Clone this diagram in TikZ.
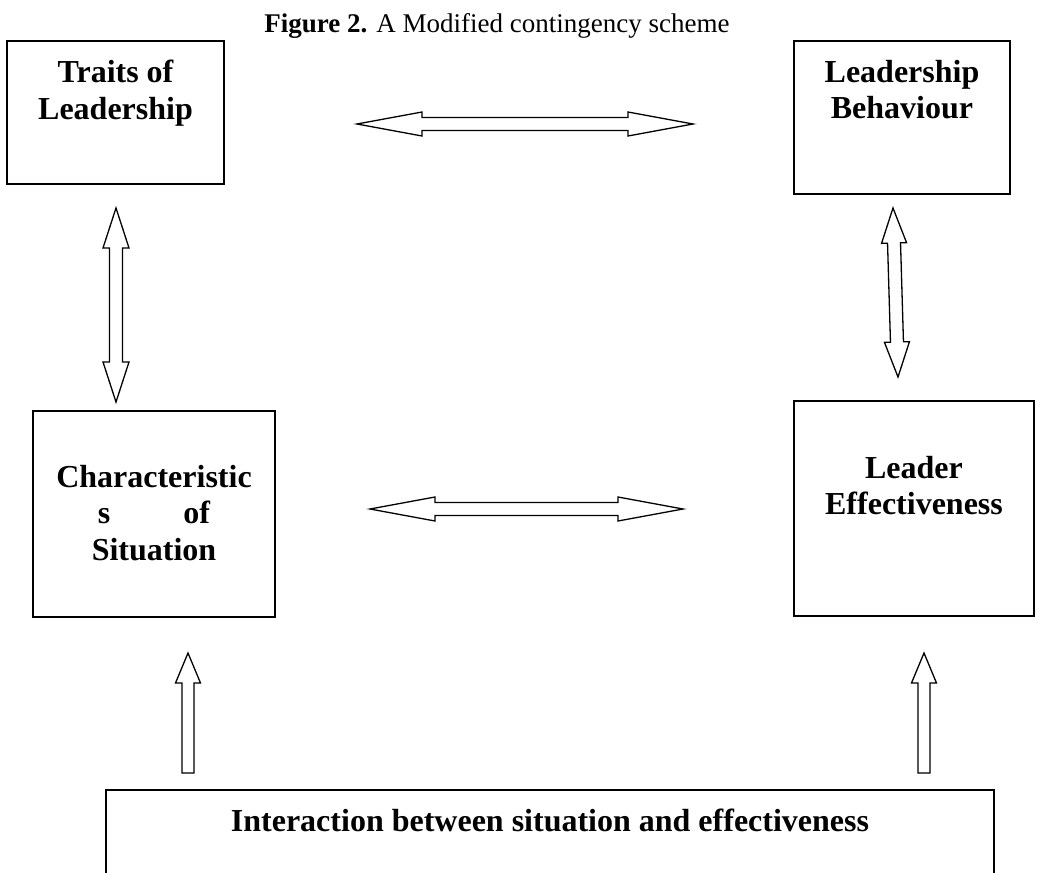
\documentclass[tikz,border=0pt]{standalone}
\usepackage{fontspec}
\setmainfont{Liberation Serif}
\usetikzlibrary{calc}
\tikzstyle{box} = [draw, line width=1.8pt, inner sep=0pt]
\tikzstyle{caption} = [inner sep=0pt, align=center, font=\fontsize{32}{36.5}\selectfont\bfseries]
\tikzstyle{hollow} = [draw, line width=1.3pt, fill=white, line join=miter]

% block arrow with a head at both ends: from, to, head length, half head, half shaft
\newcommand{\twoway}[5]{%
  \draw[hollow] (#1) -- ($(#1)!#3pt!(#2)!#4pt!90:(#1)$) -- ($(#1)!#3pt!(#2)!#5pt!90:(#1)$)
    -- ($(#2)!#3pt!(#1)!#5pt!-90:(#2)$) -- ($(#2)!#3pt!(#1)!#4pt!-90:(#2)$) -- (#2)
    -- ($(#2)!#3pt!(#1)!#4pt!90:(#2)$) -- ($(#2)!#3pt!(#1)!#5pt!90:(#2)$)
    -- ($(#1)!#3pt!(#2)!#5pt!-90:(#1)$) -- ($(#1)!#3pt!(#2)!#4pt!-90:(#1)$) -- cycle;}
% block arrow with one head: tail, tip, head length, half head, half shaft
\newcommand{\oneway}[5]{%
  \draw[hollow] (#2) -- ($(#2)!#3pt!(#1)!#4pt!90:(#2)$) -- ($(#2)!#3pt!(#1)!#5pt!90:(#2)$)
    -- ($(#1)!#5pt!90:(#2)$) -- ($(#1)!#5pt!-90:(#2)$)
    -- ($(#2)!#3pt!(#1)!#5pt!-90:(#2)$) -- ($(#2)!#3pt!(#1)!#4pt!-90:(#2)$) -- cycle;}

\begin{document}
\begin{tikzpicture}[x=1pt, y=-1pt]
	  \clip (0,0) rectangle (1037,873);
	  \node (title) at (497,32) [anchor=base, inner sep=0pt, font=\fontsize{27}{30}\selectfont] {\textbf{Figure 2.} A Modified contingency scheme};

	  \node (traits) at (115.5,112.5) [box, minimum width=217, minimum height=143] {};
	  \node (behav) at (902,117.5) [box, minimum width=216, minimum height=153] {};
	  \node (situ) at (154,514) [box, minimum width=242, minimum height=206] {};
	  \node (effect) at (914,508.5) [box, minimum width=240, minimum height=215] {};
	  \node (inter) at (550,850) [box, minimum width=888, minimum height=120] {};

	  \node (traitsT) at (115.5,60) [caption, anchor=north] {Traits of\\Leadership};
	  \node (behavT) at (902,60) [caption, anchor=north] {Leadership\\Behaviour};
	  \node (situT) at (154,465) [caption, anchor=north] {Characteristic\\\makebox[112pt]{s\hfill of}\\Situation};
	  \node (effectT) at (914,456) [caption, anchor=north] {Leader\\Effectiveness};
	  \node (interT) at (550,831) [caption, anchor=base] {Interaction between situation and effectiveness};

	  \coordinate (top1) at (357,124);
	  \coordinate (top2) at (693,124);
	  \coordinate (mid1) at (370,509);
	  \coordinate (mid2) at (683,509);
	  \coordinate (left1) at (116,208);
	  \coordinate (left2) at (116,402);
	  \coordinate (right1) at (893,208);
	  \coordinate (right2) at (898,377);
	  \coordinate (upA0) at (188,773);
	  \coordinate (upA1) at (188,653);
	  \coordinate (upB0) at (924,773);
	  \coordinate (upB1) at (924,653);

	  \twoway{top1}{top2}{65}{12}{6.5}
	  \twoway{mid1}{mid2}{65}{12}{6.5}
	  \twoway{left1}{left2}{40}{13}{6.5}
	  \twoway{right1}{right2}{35}{12.5}{6.5}
	  \oneway{upA0}{upA1}{30}{12.5}{6}
	  \oneway{upB0}{upB1}{30}{12.5}{6}
	\end{tikzpicture}
\end{document}
